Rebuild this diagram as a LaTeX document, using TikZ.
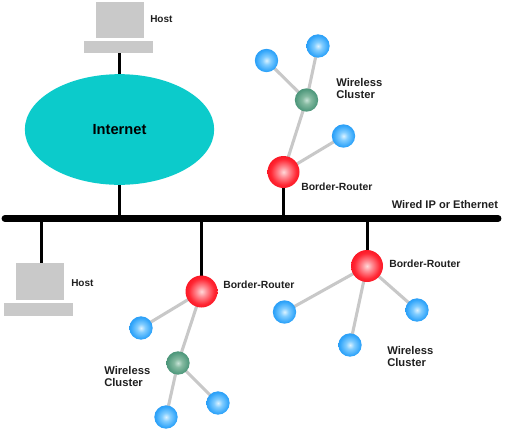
\documentclass[tikz,border=0pt]{standalone}
\usepackage{fontspec}
\usetikzlibrary{shapes.geometric,backgrounds}
\setmainfont{Liberation Sans}
\definecolor{hostgray}{HTML}{C9C9C9}
\definecolor{linkgray}{HTML}{C8C8C8}
\definecolor{cloudteal}{HTML}{0CCBCB}
\pgfdeclareradialshading{ballred}{\pgfpoint{0bp}{0bp}}{rgb(0bp)=(1,0.85,0.85); rgb(8bp)=(1,0.55,0.58); rgb(20bp)=(1,0.15,0.2); rgb(34bp)=(0.96,0,0.06); rgb(50bp)=(0.96,0,0.06)}
\pgfdeclareradialshading{ballgreen}{\pgfpoint{0bp}{0bp}}{rgb(0bp)=(0.78,0.89,0.84); rgb(9bp)=(0.52,0.73,0.63); rgb(22bp)=(0.33,0.61,0.5); rgb(34bp)=(0.22,0.53,0.42); rgb(50bp)=(0.22,0.53,0.42)}
\pgfdeclareradialshading{ballblue}{\pgfpoint{0bp}{0bp}}{rgb(0bp)=(0.86,0.95,1); rgb(9bp)=(0.5,0.8,1); rgb(22bp)=(0.2,0.65,0.98); rgb(34bp)=(0.08,0.55,0.93); rgb(50bp)=(0.08,0.55,0.93)}
\tikzset{
  x=0.75pt,y=-0.75pt,
  hostbox/.style={fill=hostgray,draw=none,inner sep=0pt,minimum width=#1},
  wire/.style={line width=2.25pt,black},
  bus/.style={line width=5.2pt,black,line cap=round},
  link/.style={line width=2.3pt,linkgray},
  router/.style={circle,draw=none,inner sep=0pt,minimum size=24pt,shading=ballred},
  gateway/.style={circle,draw=none,inner sep=0pt,minimum size=17.5pt,shading=ballgreen},
  leaf/.style={circle,draw=none,inner sep=0pt,minimum size=17.5pt,shading=ballblue},
  lbl/.style={font=\bfseries\fontsize{#1}{9pt}\selectfont,align=left,anchor=west,inner sep=0pt,text=black!88},
  lbl/.default=7.8pt,
}
\begin{document}
\begin{tikzpicture}
\useasboundingbox (0,0) rectangle (527,433);
% nodes
\node[hostbox=36pt,minimum height=27pt] (h1t) at (120,20) {};
\node[hostbox=52pt,minimum height=9.2pt] (h1b) at (118.5,47) {};
\node[hostbox=36pt,minimum height=27.5pt] (h2t) at (40,281.5) {};
\node[hostbox=52pt,minimum height=9.5pt] (h2b) at (38.5,309.5) {};
\node[ellipse,fill=cloudteal,minimum width=142pt,minimum height=83pt,inner sep=0pt,font=\bfseries\fontsize{11pt}{12pt}\selectfont] (net) at (119.5,129.5) {Internet};
\coordinate (busL) at (5,218.5);
\coordinate (busR) at (498,218.5);
\coordinate (b3) at (41,218.5);
\node[router] (r1) at (283.5,172) {};
\node[router] (r2) at (201.5,291.5) {};
\node[router] (r3) at (367,266) {};
\node[gateway] (g1) at (306.5,100) {};
\node[gateway] (g2) at (178,363) {};
\node[leaf] (a1) at (266.5,60.5) {};
\node[leaf] (a2) at (318,46) {};
\node[leaf] (a3) at (343.5,136) {};
\node[leaf] (c1) at (141,328) {};
\node[leaf] (c2) at (166,417) {};
\node[leaf] (c3) at (218,403) {};
\node[leaf] (d1) at (284.5,312) {};
\node[leaf] (d2) at (350,345) {};
\node[leaf] (d3) at (417,310) {};
% connectors
\begin{pgfonlayer}{background}
\draw[wire] (h1b.south -| net.north) -- (net.north);
\draw[wire] (net.south) -- (net.south |- busL);
\draw[wire] (r1.center) -- (r1.center |- busL);
\draw[wire] (b3) -- (b3 |- h2t.north);
\draw[wire] (r2.center |- busL) -- (r2.center);
\draw[wire] (r3.center |- busL) -- (r3.center);
\draw[bus] (busL) -- (busR);
\draw[link] (r1.center) -- (g1.center);
\draw[link] (r1.center) -- (a3.center);
\draw[link] (g1.center) -- (a1.center);
\draw[link] (g1.center) -- (a2.center);
\draw[link] (r2.center) -- (c1.center);
\draw[link] (r2.center) -- (g2.center);
\draw[link] (g2.center) -- (c2.center);
\draw[link] (g2.center) -- (c3.center);
\draw[link] (r3.center) -- (d1.center);
\draw[link] (r3.center) -- (d2.center);
\draw[link] (r3.center) -- (d3.center);
\end{pgfonlayer}
% labels
\node[lbl=7.5pt] (t1) at (150,19) {Host};
\node[lbl=7.5pt] (t2) at (71,283) {Host};
\node[lbl=8.4pt] (t3) at (336,88.5) {Wireless\\Cluster};
\node[lbl] (t4) at (301,186.5) {Border-Router};
\node[lbl] (t5) at (223,284.5) {Border-Router};
\node[lbl] (t6) at (389,263.5) {Border-Router};
\node[lbl=8.3pt] (t7) at (391.5,205) {Wired IP or Ethernet};
\node[lbl=8.4pt] (t8) at (104,376.5) {Wireless\\Cluster};
\node[lbl=8.4pt] (t9) at (387,356) {Wireless\\Cluster};
\end{tikzpicture}
\end{document}
